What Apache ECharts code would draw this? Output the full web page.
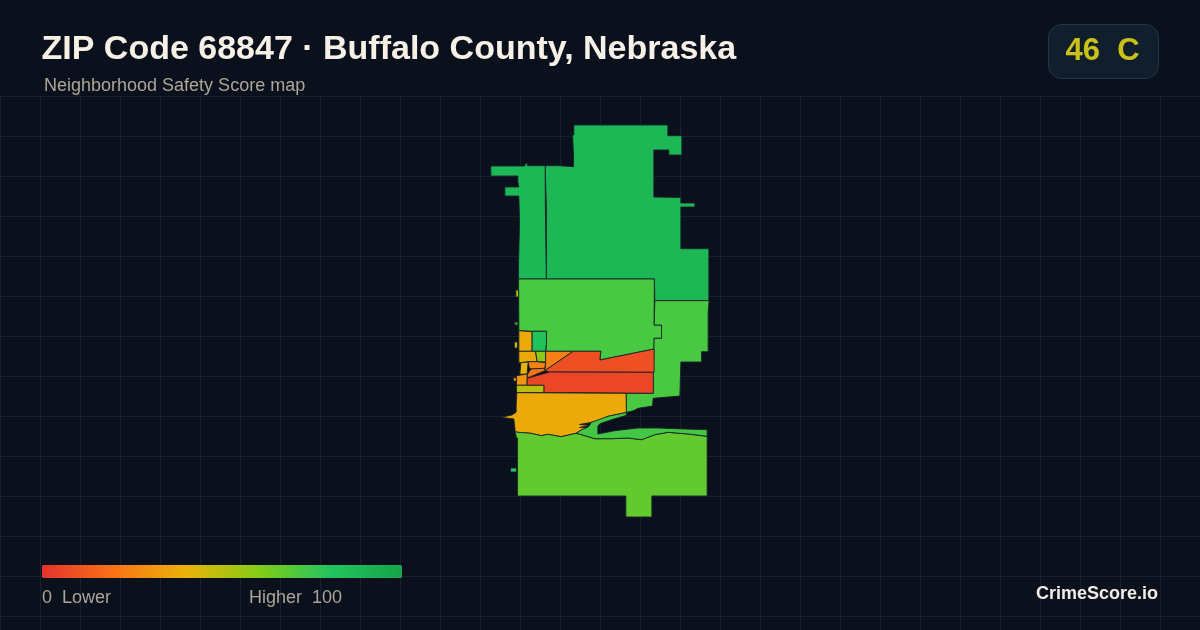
<!DOCTYPE html>
<html><head><meta charset="utf-8">
<style>html,body{margin:0;padding:0;background:#0a111c}#c{width:1200px;height:630px}</style>
<script src="https://cdn.jsdelivr.net/npm/echarts@6/dist/echarts.min.js"></script>
</head><body><div id="c"></div>
<script>
const titleText='ZIP Code 68847 · Buffalo County, Nebraska';
const subtitleText='Neighborhood Safety Score map';
const badgeText='46  C';
const brandText='CrimeScore.io';
const legendLow='0  Lower';
const legendHigh='Higher  100';
const scaleColors=['#e5322d','#f97316','#eab308','#84cc16','#22c55e','#16a34a'];

const regionNames=['north','northwest','central','east','block_a','block_b','block_c','block_d','block_e','block_f','block_g','block_h','block_i','upper_red','lower_red','block_j','south_amber','south','strip','west_spot'];
const regionScores=[88,87,72,72,37,82,37,58,24,25,20,41,30,9,6,49,37,67,73,80];

const regionBoundaries={
 north:[[[574,125],[668,125],[668,135.7],[682,135.7],[682,155],[669,155],[669,150],[654,150],[654,197],[681,197.5],[681,203],[695,203],[695,207],[681,207],[681,248.7],[709,248.7],[709,300.7],[655,300.7],[654.5,279],[546.5,279],[546.5,206],[545.5,206],[545.3,165.7],[559,165.7],[559,166.7],[573.7,166.7],[573.7,155],[572.7,155],[572.7,135],[574,135]]],
 northwest:[[[491,166],[525,166],[525,163.7],[527.7,163.7],[527.7,165.7],[545.3,165.7],[545.5,206],[546.5,206],[546.5,279],[518.7,279],[518.7,264],[519.7,264],[519.7,221.7],[519,221.7],[519,196],[505,196],[505,187],[519,187],[518,181.7],[518,176],[491,176]]],
 central:[[[518.7,279],[654.5,279],[654.3,325],[661.7,325],[661.7,338.3],[654.3,338.3],[654.3,349],[600,360],[601,351.3],[546,351.3],[546.7,331.3],[532.3,331.3],[519,330.7],[519,320]],[[515,322],[518,322],[518,325],[515,325]]],
 east:[[[655,300.7],[709.3,300.7],[708.3,311.7],[708.3,351.7],[701.7,351.7],[701.7,362],[681,362],[680,396],[653.3,398.3],[652.7,406],[638.3,408.3],[634,410.5],[626.5,412.5],[626.3,393.3],[653.3,393.3],[653.3,372.3],[654.3,372.3],[654.3,338.3],[661.7,338.3],[661.7,325],[654.3,325]]],
 block_a:[[[519,330.7],[532.3,331.7],[532.3,351.3],[519,351.3]]],
 block_b:[[[532.3,331.3],[546.7,331.3],[546.7,341.7],[545.7,341.7],[545.7,351.3],[532.3,351.3]]],
 block_c:[[[519,351.3],[535.7,351.3],[537.3,361.7],[528.3,361.7],[521,362.7],[519,362.7]]],
 block_d:[[[535.7,351.3],[545.7,351.3],[545.7,362],[537.3,361.7]]],
 block_e:[[[545.7,351.3],[573.3,351.3],[545,370.7],[545.7,362.7]]],
 block_f:[[[528.3,361.7],[537.3,361.7],[545.7,362.7],[545,368.3],[531,369],[529.3,367.3]]],
 block_g:[[[531,369],[545,368.3],[545,370.7],[528.3,377.7],[527.3,375]]],
 block_h:[[[521,362.7],[528.3,362],[527.3,374],[520,374.3]]],
 block_i:[[[516.7,375.7],[527.3,374],[527.3,385.3],[516.7,385.3]],[[513.5,378],[516.7,377.5],[516.7,381],[513.5,381]]],
 upper_red:[[[573.3,351.3],[601,351.3],[600,360],[654.3,349],[654.3,372.3],[550,372],[545,370.7]]],
 lower_red:[[[550,372],[653.5,372.3],[653.5,393.3],[572.3,392.7],[544,392.7],[544,385.3],[527.3,385.3],[527.3,378.3]]],
 block_j:[[[516.7,385.3],[544,385.3],[544,392.5],[516.7,392.5]],[[516,290],[518.7,290],[518.7,297],[516,297]],[[514.5,342],[517.7,342],[517.7,348],[514.5,348]]],
 south_amber:[[[517,392.7],[626.3,393.3],[626.5,412.5],[608.3,416.3],[598.3,420.7],[591,422.5],[579.7,424.5],[590,425.3],[579.7,427.5],[588,427.2],[581.3,430],[576.3,433.3],[561.3,436.7],[548,434.3],[541.3,435.7],[531.3,433.3],[518,432.3],[515.3,431.7],[514.7,425],[514,419],[501.3,417.3],[512,415],[516.3,412.3],[516.3,405]]],
 south:[[[515.3,431.7],[518,432.3],[531.3,433.3],[541.3,435.7],[548,434.3],[561.3,436.7],[576.3,433.3],[581.7,434.7],[595,438.7],[611.7,438.7],[628.3,438],[641.7,439.7],[655,434.7],[668.3,432.3],[688.3,434],[707.3,436.3],[707.3,496],[652,496],[652,517],[626,517],[626,496],[517.7,496],[517.7,438],[516.7,438]]],
 strip:[[[591,422.5],[608.3,416.3],[626.5,412.5],[626.7,415.3],[611.7,419.7],[600,423.7],[598,426.3],[598,434],[615,430.7],[638.3,428],[658.3,428],[675,428.7],[707.3,429.7],[707.3,436.3],[688.3,434],[668.3,432.3],[655,434.7],[641.7,439.7],[628.3,438],[611.7,438.7],[595,438.7],[581.7,434.7],[576.3,433.3],[581.3,430],[588,427.2],[590,425.3]]],
 west_spot:[[[510.7,468],[516.7,468],[516.7,472],[510.7,472]]]
};

const boundaryMap={type:'FeatureCollection',features:regionNames.map(name=>({
  type:'Feature',properties:{name},
  geometry:{type:'MultiPolygon',coordinates:regionBoundaries[name].map(r=>[r])}
}))};
echarts.registerMap('zip68847',boundaryMap);

const chart=echarts.init(document.getElementById('c'),null,{renderer:'canvas'});
const muted='#aca598';
chart.setOption({
  animation:false,
  backgroundColor:'#0a111c',
  title:[
    {text:titleText,left:41.5,top:33,padding:0,textStyle:{color:'#f7f0e6',fontSize:34,fontWeight:'bold',fontFamily:'Liberation Sans'}},
    {text:subtitleText,left:44,top:77,padding:0,textStyle:{color:muted,fontSize:18,fontWeight:'normal',fontFamily:'Liberation Sans'}}
  ],
  grid:{left:0,right:0,top:96,bottom:0,containLabel:false},
  xAxis:{type:'value',min:0,max:1200,interval:40,axisLine:{show:false},axisTick:{show:false},axisLabel:{show:false},splitLine:{show:true,lineStyle:{color:'#152230',width:1}}},
  yAxis:{type:'value',inverse:true,min:0,max:534,interval:40,axisLine:{show:false},axisTick:{show:false},axisLabel:{show:false},splitLine:{show:true,lineStyle:{color:'#152230',width:1}}},
  visualMap:{type:'continuous',min:0,max:100,orient:'horizontal',left:42,top:565,padding:0,itemWidth:13,itemHeight:360,borderRadius:0,text:null,showLabel:false,calculable:false,realtime:false,hoverLink:false,inRange:{color:scaleColors},textStyle:{color:'rgba(0,0,0,0)'},seriesIndex:0},
  series:[{
    type:'map',map:'zip68847',roam:false,silent:true,
    projection:{project:p=>[p[0],p[1]],unproject:p=>[p[0],p[1]]},
    layoutCenter:[600,321],layoutSize:392,
    label:{show:false},
    itemStyle:{borderColor:'#17242a',borderWidth:0.9},
    emphasis:{disabled:true},
    data:regionNames.map((name,i)=>({name,value:regionScores[i]}))
  }],
  graphic:{z:100,elements:[
    {type:'rect',z:100,shape:{x:1048.5,y:24.5,width:110,height:54,r:13},style:{fill:'#111e2c',stroke:'#263545',lineWidth:1}},
    {type:'text',z:101,style:{x:1102.5,y:51.5,text:badgeText,fill:'#c9c218',font:'bold 31px "Liberation Sans"',align:'center',verticalAlign:'middle'}},
    {type:'text',z:101,style:{x:42,y:598,text:legendLow,fill:muted,font:'18px "Liberation Sans"',align:'left',verticalAlign:'middle'}},
    {type:'text',z:101,style:{x:249,y:598,text:legendHigh,fill:muted,font:'18px "Liberation Sans"',align:'left',verticalAlign:'middle'}},
    {type:'text',z:101,style:{x:1158,y:594,text:brandText,fill:'#f2eee6',font:'bold 18px "Liberation Sans"',align:'right',verticalAlign:'middle'}}
  ]}
});
</script></body></html>
